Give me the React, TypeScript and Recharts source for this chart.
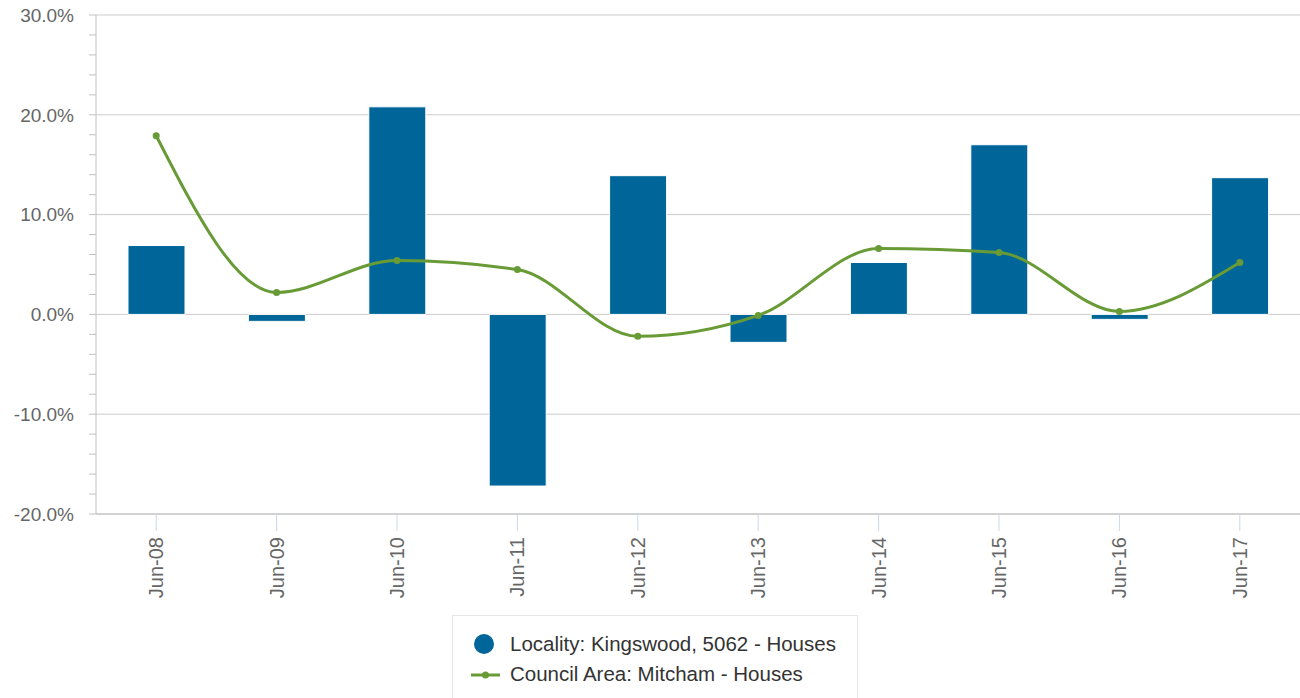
import { Bar, CartesianGrid, ComposedChart, Line, XAxis, YAxis } from "recharts";

const categories = ["Jun-08", "Jun-09", "Jun-10", "Jun-11", "Jun-12", "Jun-13", "Jun-14", "Jun-15", "Jun-16", "Jun-17"];
const localityValues = [6.9, -0.7, 20.8, -17.2, 13.9, -2.8, 5.2, 17.0, -0.5, 13.7];
const councilValues = [17.9, 2.2, 5.4, 4.5, -2.2, -0.1, 6.6, 6.2, 0.3, 5.2];

const yTicks = [-20, -18, -16, -14, -12, -10, -8, -6, -4, -2, 0, 2, 4, 6, 8, 10, 12, 14, 16, 18, 20, 22, 24, 26, 28, 30];
const yMajor = [-20, -10, 0, 10, 20, 30];

const LOCALITY_NAME = "Locality: Kingswood, 5062 - Houses";
const COUNCIL_NAME = "Council Area: Mitcham - Houses";
const BAR_COLOR = "#006699";
const LINE_COLOR = "#689b36";
const FONT = "'Liberation Sans', Arial, sans-serif";

const data = categories.map((c, i) => ({
  name: c,
  locality: localityValues[i],
  council: councilValues[i],
}));

function XTick({ x, y, payload }: any) {
  return (
    <g transform={`translate(${x},${y}) rotate(-90)`}>
      <text textAnchor="end" dy="0.35em" fill="#666" fontSize={20} fontFamily={FONT}>
        {payload.value}
      </text>
    </g>
  );
}

export default function App() {
  return (
    <div style={{ position: "absolute", left: 0, top: 0, width: 1300, height: 698, background: "#fff", overflow: "hidden" }}>
      <ComposedChart width={1300} height={698} data={data} margin={{ top: 15, right: 0, bottom: 0, left: 0 }}>
        <CartesianGrid vertical={false} stroke="#cccccc" horizontalValues={yMajor} />
        <XAxis
          dataKey="name"
          height={184}
          interval={0}
          axisLine={{ stroke: "#c0c0c0" }}
          tickLine={{ stroke: "#ccd6eb" }}
          tickSize={17}
          tickMargin={6}
          tick={<XTick />}
        />
        <YAxis
          width={96}
          domain={[-20, 30]}
          ticks={yTicks}
          interval={0}
          axisLine={{ stroke: "#c0c0c0" }}
          tickLine={{ stroke: "#c0c0c0" }}
          tickSize={7}
          tickMargin={15}
          tick={{ fill: "#666", fontSize: 19, fontFamily: FONT }}
          tickFormatter={(v: number) => (v % 10 === 0 ? `${v.toFixed(1)}%` : "")}
        />
        <Bar dataKey="locality" name={LOCALITY_NAME} fill={BAR_COLOR} stroke="#ffffff" strokeWidth={1} barSize={57} isAnimationActive={false} />
        <Line
          dataKey="council"
          name={COUNCIL_NAME}
          type="monotone"
          stroke={LINE_COLOR}
          strokeWidth={3}
          dot={{ r: 3.5, fill: LINE_COLOR, stroke: LINE_COLOR, strokeWidth: 0 }}
          activeDot={false}
          isAnimationActive={false}
        />
      </ComposedChart>
      <div
        style={{
          position: "absolute",
          left: 452,
          top: 615,
          width: 404,
          height: 100,
          border: "1px solid #e6e6e6",
          background: "#fff",
          fontFamily: FONT,
          fontSize: 20.5,
          color: "#333",
        }}
      >
        <svg width={40} height={80} style={{ position: "absolute", left: 16, top: 14 }}>
          <circle cx={15} cy={14} r={10} fill={BAR_COLOR} />
          <line x1={2} x2={31} y1={45} y2={45} stroke={LINE_COLOR} strokeWidth={3} />
          <circle cx={16.5} cy={45} r={3.5} fill={LINE_COLOR} />
        </svg>
        <div style={{ position: "absolute", left: 57, top: 16, whiteSpace: "nowrap", lineHeight: "24px" }}>{LOCALITY_NAME}</div>
        <div style={{ position: "absolute", left: 57, top: 46, whiteSpace: "nowrap", lineHeight: "24px" }}>{COUNCIL_NAME}</div>
      </div>
    </div>
  );
}
